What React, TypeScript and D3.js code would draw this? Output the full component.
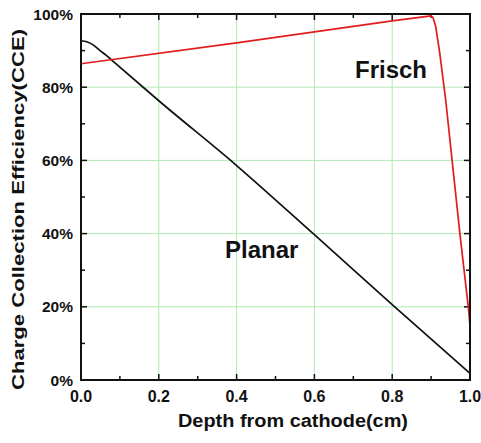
import React, { useEffect, useRef } from 'react';
import * as d3 from 'd3';

// CCE vs depth
const planarDepth = [0, 0.015, 0.032, 0.049, 0.065, 0.079, 0.2, 0.4, 0.6, 0.8, 1.0];
const planarCCE = [92.7, 92.4, 91.5, 90.0, 88.7, 87.4, 76.3, 58.6, 39.7, 20.6, 1.8];

const frischDepth = [0, 0.4, 0.8, 0.9, 0.905, 0.912, 0.922, 0.9375, 0.954, 0.974, 0.9956, 1.0];
const frischCCE = [86.4, 92.1, 98.1, 99.5, 99.0, 96.5, 89.5, 76.5, 60, 40, 20, 14.7];

const xTicks = [0, 0.2, 0.4, 0.6, 0.8, 1.0];
const xTickLabels = ['0.0', '0.2', '0.4', '0.6', '0.8', '1.0'];
const xMinor = [0.1, 0.3, 0.5, 0.7, 0.9];
const yTicks = [0, 20, 40, 60, 80, 100];
const yTickLabels = ['0%', '20%', '40%', '60%', '80%', '100%'];
const yMinor = [10, 30, 50, 70, 90];

const width = 481;
const height = 443;
const margin = { top: 14, right: 11, bottom: 63, left: 81 };
const font = "'Liberation Sans', Arial, sans-serif";

export default function App() {
  const svgRef = useRef<SVGSVGElement | null>(null);

  useEffect(() => {
    const svg = d3.select(svgRef.current);
    svg.selectAll('*').remove(); // clear before drawing

    const x = d3.scaleLinear().domain([0, 1]).range([margin.left, width - margin.right]);
    const y = d3.scaleLinear().domain([0, 100]).range([height - margin.bottom, margin.top]);
    const [x0, x1] = x.range();
    const [y0, y1] = y.range();

    svg.append('rect').attr('width', width).attr('height', height).attr('fill', 'white');

    // green grid at the major ticks
    const grid = svg.append('g').attr('stroke', '#b2e8b2').attr('stroke-width', 1);
    xTicks.slice(1, -1).forEach(t => {
      grid.append('line').attr('x1', x(t)).attr('x2', x(t)).attr('y1', y0).attr('y2', y1);
    });
    yTicks.slice(1, -1).forEach(t => {
      grid.append('line').attr('x1', x0).attr('x2', x1).attr('y1', y(t)).attr('y2', y(t));
    });

    // inward ticks on all four sides
    const ticks = svg.append('g').attr('stroke', '#111').attr('stroke-width', 1.5);
    const xTick = (t: number, len: number) => {
      ticks.append('line').attr('x1', x(t)).attr('x2', x(t)).attr('y1', y0).attr('y2', y0 - len);
      ticks.append('line').attr('x1', x(t)).attr('x2', x(t)).attr('y1', y1).attr('y2', y1 + len);
    };
    const yTick = (t: number, len: number) => {
      ticks.append('line').attr('x1', x0).attr('x2', x0 + len).attr('y1', y(t)).attr('y2', y(t));
      ticks.append('line').attr('x1', x1).attr('x2', x1 - len).attr('y1', y(t)).attr('y2', y(t));
    };
    xTicks.forEach(t => xTick(t, 6));
    xMinor.forEach(t => xTick(t, 4));
    yTicks.forEach(t => yTick(t, 6));
    yMinor.forEach(t => yTick(t, 4));

    const smooth = d3.line<[number, number]>()
      .x(d => x(d[0]))
      .y(d => y(d[1]))
      .curve(d3.curveMonotoneX);
    const straight = d3.line<[number, number]>()
      .x(d => x(d[0]))
      .y(d => y(d[1]));

    svg.append('path')
      .datum(planarDepth.map((d, i) => [d, planarCCE[i]] as [number, number]))
      .attr('d', smooth)
      .attr('fill', 'none')
      .attr('stroke', '#111')
      .attr('stroke-width', 1.7);

    svg.append('path')
      .datum(frischDepth.map((d, i) => [d, frischCCE[i]] as [number, number]))
      .attr('d', straight)
      .attr('fill', 'none')
      .attr('stroke', '#e21c1c')
      .attr('stroke-width', 1.7)
      .attr('stroke-linejoin', 'round');

    // frame
    svg.append('rect')
      .attr('x', x0).attr('y', y1)
      .attr('width', x1 - x0).attr('height', y0 - y1)
      .attr('fill', 'none').attr('stroke', '#111').attr('stroke-width', 2);

    // tick labels
    const labels = svg.append('g')
      .attr('font-family', font).attr('font-weight', 'bold').attr('fill', '#111');
    yTicks.forEach((t, i) => {
      labels.append('text')
        .attr('x', x0 - 8).attr('y', y(t) + 5.5)
        .attr('text-anchor', 'end').attr('font-size', 15.5)
        .text(yTickLabels[i]);
    });
    xTicks.forEach((t, i) => {
      labels.append('text')
        .attr('x', x(t)).attr('y', y0 + 22)
        .attr('text-anchor', 'middle').attr('font-size', 16)
        .text(xTickLabels[i]);
    });

    // axis titles
    labels.append('text')
      .attr('x', 293).attr('y', 427)
      .attr('text-anchor', 'middle').attr('font-size', 18)
      .attr('textLength', 230).attr('lengthAdjust', 'spacingAndGlyphs')
      .text('Depth from cathode(cm)');
    labels.append('text')
      .attr('transform', 'translate(24,209.5) rotate(-90)')
      .attr('text-anchor', 'middle').attr('font-size', 17)
      .attr('textLength', 361).attr('lengthAdjust', 'spacingAndGlyphs')
      .text('Charge Collection Efficiency(CCE)');

    // series names
    labels.append('text').attr('x', 355).attr('y', 78).attr('font-size', 24).text('Frisch');
    labels.append('text').attr('x', 225).attr('y', 258).attr('font-size', 24).text('Planar');
  }, []);

  return (
    <svg
      ref={svgRef}
      width={width}
      height={height}
      style={{ position: 'absolute', left: 0, top: 0, display: 'block' }}
    />
  );
}
